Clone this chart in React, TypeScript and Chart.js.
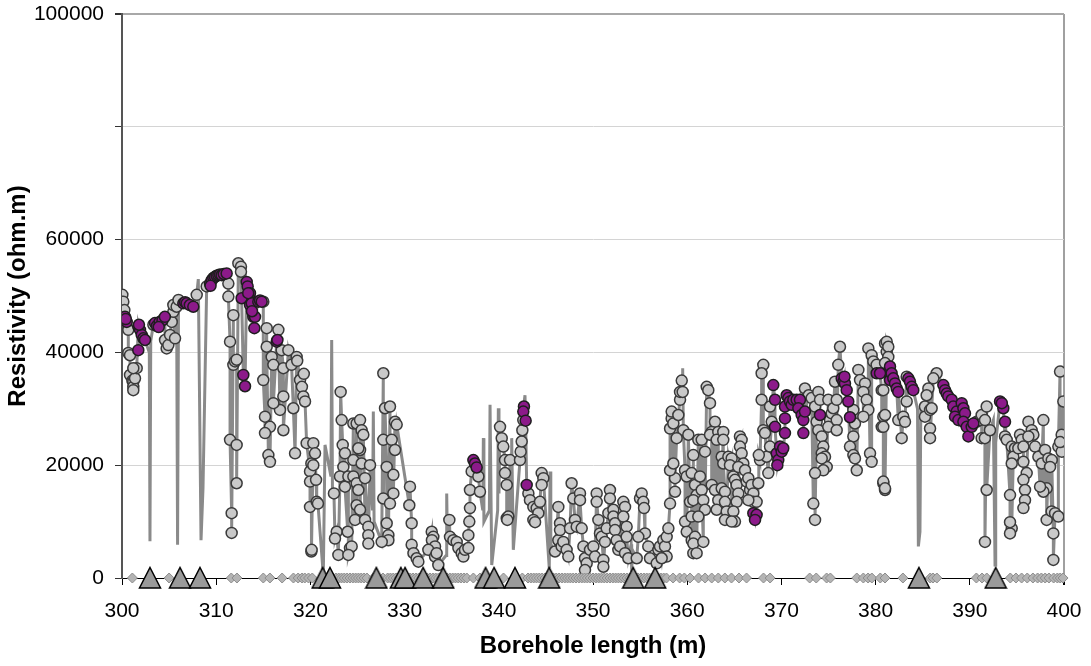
import React, { useEffect, useRef } from "react";
import { Chart, registerables } from "chart.js";

Chart.register(...registerables);

type P = [number, number];

// Borehole length (m) / resistivity (ohm.m) – light gray samples
const gray300to320: P[] = [
  [300.04,50200],[300.14,49000],[300.25,47500],[300.67,44000],[300.67,39900],[300.85,39500],[300.85,36000],[301.1,35000],
  [301.2,34800],[301.2,33900],[301.2,33300],[301.38,35400],[301.56,37200],[301.2,37200],
  [303.33,44900],[304.57,42200],[304.74,40700],[304.92,41300],[305.1,43100],[305.28,45400],[305.45,47200],[305.45,48400],
  [305.63,42500],[305.8,48100],[306.0,49300],[307.93,50200],[308.99,51700],[311.29,52200],[311.29,49900],[311.47,41900],
  [311.82,46600],[311.82,37800],[312.0,38400],[312.17,38700],[311.47,24500],[312.17,23600],[312.17,16800],[311.64,11500],
  [311.64,8000],[312.35,55800],[312.63,55200],[312.63,54300],[315.0,49000],[315.36,44300],[315.36,41000],[315.0,35100],
  [315.89,39200],[316.07,37800],[316.6,44000],[316.95,40400],[317.13,37200],[317.66,40400],[318.0,37800],[318.54,39200],
  [318.9,35100],[319.1,33900],[319.25,32200],[319.43,31300],[318.19,30100],[317.13,32200],[316.77,29800],[316.07,31000],
  [315.18,28600],[315.71,26800],[315.18,25700],[315.54,21800],[315.71,20600],[317.13,26200],[318.37,22100],[319.6,23900],
  [320.1,20300],[319.96,18900],[319.96,17100],[319.96,12600],[320.1,4700],[318.6,38500],[319.3,36200]
];
const gray320to340: P[] = [
  [320.31,23900],[320.49,22100],[320.31,20000],[320.6,17400],[320.67,13500],[320.8,13200],[320.13,5000],
  [322.5,15000],[322.79,8200],[322.61,7000],[322.97,4100],
  [323.21,33000],[323.32,28000],[323.43,23600],[323.67,22100],[323.5,19700],[323.14,18000],[323.67,16200],[324.03,18000],
  [323.96,8200],[324.2,5300],[324.38,5600],[324.03,4100],[324.56,27400],[325.27,22700],
  [324.56,20900],[325.09,23000],[324.91,27400],[325.27,28000],[325.44,26200],[325.62,25400],[325.44,20300],[324.56,18000],
  [324.91,16800],[325.09,15600],[324.91,12900],[325.27,12100],[324.74,10300],[325.8,10300],[326.15,9100],[326.15,7600],
  [326.15,6100],[325.8,17700],[326.33,20000],
  [327.74,36300],[327.92,30100],[328.45,30400],[328.98,27700],[329.16,27200],[327.74,24500],[328.63,24500],[328.98,22700],
  [328.1,19700],[328.81,18300],[327.74,14100],[328.45,13200],[328.81,15000],[328.1,9700],[328.28,7600],[328.28,6700],[327.57,6400],
  [330.57,16200],[330.5,12900],[330.75,9700],[330.75,5900],[330.94,4400],[331.28,3500],[331.46,2900],
  [332.88,8200],[333.05,7300],[332.9,6700],[333.23,5600],[332.52,5000],[333.23,3800],[333.58,2300],[333.4,4400],
  [334.75,10300],[334.82,7300],[335.18,6700],[335.53,6400],[335.71,5300],[336.06,4400],[336.24,3800],[336.41,5000],
  [336.77,5300],[336.77,7600],[336.87,10000],[336.94,12400],[336.94,15600],[337.12,18900],[337.83,18000],[338.0,15300],
  [340.13,26800],[340.31,24800],[340.48,23300],[340.66,20900],[340.66,18600],[340.84,16500],[340.84,10600]
];
const gray340to360: P[] = [
  [341.01,10900],[340.9,10300],[341.19,20900],[342.25,20900],[342.32,22400],[342.43,24200],[342.5,26200],[342.6,28000],
  [343.14,15000],[343.31,13800],[343.67,12600],[344.02,12400],[344.37,13500],[344.2,11500],[343.67,10300],[343.85,9900],
  [344.55,18600],[344.73,17700],[344.55,16500],
  [345.97,4700],[346.32,12600],[346.5,9700],[346.32,6700],[346.67,5600],[346.85,6400],[347.2,5000],[347.38,3800],[346.5,8500],
  [347.73,16800],[347.91,14100],[348.09,10300],[347.56,8800],[348.27,9100],[348.62,15000],[348.62,13800],[348.8,8800],
  [348.98,5600],[349.15,3500],[349.33,2600],[349.15,1400],
  [349.68,5000],[350.04,5600],[350.21,3800],[350.39,15000],[350.39,13500],[350.57,10300],[350.74,7900],[350.92,7300],
  [351.1,3200],[351.1,2000],[351.27,6400],[351.45,8800],[351.63,11500],[351.8,15600],[351.8,14100],[352.16,12100],
  [352.16,10900],[352.34,9700],[352.34,8500],[352.51,6700],[352.69,5000],[352.87,5600],
  [353.22,13500],[353.4,12600],[353.22,10900],[353.57,9100],[353.57,7300],[353.4,4400],[353.75,3500],
  [354.64,3500],[354.99,14100],[355.17,15000],[355.34,13500],[355.42,12400],[355.52,7900],[354.81,7300],[355.87,5600],
  [356.05,3500],[356.76,2600],[356.94,5000],[357.11,5600],[357.47,6700],[357.64,5600],[357.82,7300],[358.0,8800],
  [357.82,3800],[357.29,3500],
  [358.18,13200],[358.71,15300],[358.71,17700],[358.18,19100],[358.53,20300],[359.77,19100],[359.95,18000],
  [358.18,26500],[358.35,28300],[358.53,27400],[358.35,29500],[359.06,28900],[359.24,31600],[359.24,33000],[359.52,33000],
  [359.42,35000],[359.59,26200],[360.12,25400],[358.88,24800],[359.77,10000],[359.95,8200]
];
const gray360to380: P[] = [
  [360.48,6700],[360.65,4400],[360.3,13500],[361.18,24500],[360.65,21800],[360.83,16500],[361.0,14700],
  [360.47,18600],[360.65,13800],[360.47,10900],[360.83,7300],[360.65,6100],[361.0,4400],[361.71,6400],
  [362.07,33900],[362.24,33300],[362.42,31000],[361.54,24500],[361.89,22400],[361.36,18000],[361.54,15600],[361.71,13800],
  [361.89,12100],[361.18,10900],
  [362.95,27700],[362.6,25900],[362.42,25400],[363.3,25900],[363.13,24500],[363.83,25900],[363.83,24500],[363.66,21500],
  [363.83,20300],[362.6,16500],[362.95,15600],[363.3,13800],[363.13,12100],[363.66,15900],[364.01,15300],[364.01,13500],
  [364.19,11800],[364.01,10300],
  [364.37,21500],[364.72,21200],[364.54,20000],[364.9,18000],[365.07,17400],[365.6,25100],[365.78,24500],[365.6,23300],
  [365.78,22100],[365.96,20300],[365.43,19700],[365.25,16500],[365.43,15000],[365.25,13500],[364.9,11800],[365.07,10000],
  [364.72,10000],
  [366.14,19100],[366.31,17100],[366.49,17700],[366.67,15600],[366.84,16500],[367.02,15000],[367.02,13500],[367.37,13500],
  [366.49,13800],
  [367.55,16800],[367.73,20900],[367.9,31600],[368.08,37800],[367.9,36300],[368.08,26200],[368.26,25700],[368.44,21500],
  [368.61,18600],[367.6,21800],[368.79,30400],[368.97,27700],[368.79,23300],
  [372.5,33600],[372.9,32400],
  [373.21,31900],[373.57,30400],[373.92,33000],[374.1,31600],[373.74,27700],[373.92,26200],[374.28,25100],[374.45,23300],
  [374.28,22100],[374.63,21500],[374.81,19700],[374.45,19100],[373.57,18600],[373.39,13200],[373.57,10300],[374.28,21200],
  [374.98,31600],[375.16,28000],[375.34,29200],[374.98,26800],[375.51,30100],[375.87,31600],[375.69,34800],[376.04,37800],
  [376.22,41000],[375.87,28000],[375.87,26200],
  [377.64,29800],[377.81,27400],[377.64,25100],[377.28,23300],[377.64,21800],[378.0,19100],[377.81,21200],
  [378.17,36900],[378.35,35100],[378.88,34500],[378.7,33000],[379.05,31600],[379.23,29800],[378.7,28600],[379.41,22100],
  [379.58,20600],[379.23,40700],[379.58,39500],[379.76,38400],[380.11,37800]
];
const gray380to400: P[] = [
  [380.65,33300],[380.82,28600],[380.65,26800],[380.82,16800],[381.0,15600],[381.0,41600],[381.18,40100],
  [381.18,41900],[381.35,41000],[381.35,39200],[381.0,38100],[380.82,33300],[381.0,28900],[380.82,26800],[380.82,17100],
  [381.0,15900],
  [383.3,35700],[383.3,31300],[382.41,28000],[382.94,28600],[383.12,27700],[382.77,24800],
  [386.48,36300],[386.13,35400],[385.6,33600],[385.42,32400],[385.24,30400],[385.24,28600],[385.78,29800],[385.95,30100],
  [385.78,26500],[385.78,24800],
  [390.73,27700],[391.08,28000],[391.26,28900],[391.79,30400],[391.61,28000],[391.26,24800],[391.6,24800],[392.14,26200],
  [391.79,15600],[391.61,6400],
  [393.74,25100],[393.92,24500],[394.45,23300],[394.8,23000],[394.62,21500],[394.45,20300],[395.33,25400],[395.51,24500],
  [395.15,23000],[395.69,23300],[396.22,27700],[396.57,26200],[396.75,25400],[396.22,25100],[395.69,20600],[396.04,18600],
  [395.69,17400],[395.86,15600],[395.86,13800],[395.69,12400],[394.27,14700],[394.45,8800],[394.27,7900],[394.27,9900],
  [397.81,28000],[396.93,23300],[397.28,21500],[397.64,20300],[397.99,22700],[398.34,21200],[398.7,20900],[398.52,19700],
  [398.16,15900],[397.81,15300],[397.46,16200],[398.16,10300],[398.69,11800],[399.05,11500],[399.4,10900],[398.87,7900],
  [398.87,3200],[399.58,36600],[399.93,31300],[399.75,25400],[399.4,23300],[399.75,22400],[399.58,24100]
];

// purple samples
const purple300to320: P[] = [
  [300.32,46300],[300.5,45400],[300.4,45900],[301.73,44600],[301.91,44000],[302.09,43100],[302.27,42500],[302.44,42200],
  [301.8,44900],[301.73,40400],
  [303.5,45200],[303.7,44700],[304.0,45400],[304.3,45700],[304.55,46300],[303.9,44500],
  [306.51,48700],[306.7,48900],[306.87,48700],[307.2,48400],[307.57,48100],
  [309.34,52200],[309.52,52800],[309.7,53200],[309.87,53400],[310.05,53600],[310.23,53700],[310.4,53800],[310.58,53700],
  [310.8,53900],[311.11,54000],[309.4,51800],
  [312.88,36000],[313.06,34000],[313.24,52500],[313.34,51700],[312.7,49600],[313.59,50500],[313.59,48400],[313.77,48700],
  [313.94,46300],[314.12,46300],[314.05,44300],[314.47,49000],[314.65,49200],[314.83,49000],[313.4,50500],[313.8,47300],
  [316.42,41900],[316.5,42200]
];
const purple320to360: P[] = [
  [337.3,20900],[337.47,20300],[337.65,19600],[342.67,30400],[342.6,29500],[342.85,27900],[342.96,16500]
];
const purple360to400: P[] = [
  [367.02,11500],[367.37,11200],[367.2,10300],
  [369.14,34200],[369.32,31600],[369.32,26800],[369.5,22100],[369.67,20900],[369.57,20000],[369.85,23300],[370.03,22400],
  [370.2,23000],[370.38,25700],[370.38,28300],[370.38,30400],[370.56,32400],[370.74,31900],[370.91,31300],[371.09,30700],
  [371.27,31600],[371.62,31600],[371.97,31600],[371.8,30100],[372.15,28900],[372.33,28000],[372.5,29500],[372.33,25700],
  [374.1,28900],
  [376.4,35400],[376.58,34800],[376.75,34500],[376.93,33300],[377.1,31300],[377.28,28500],[376.7,35700],
  [380.11,36300],[381.35,36600],[381.53,35100],[380.47,36300],
  [381.53,37500],[381.7,36300],[381.88,35400],[382.06,34500],[382.24,33600],[382.41,33000],[383.48,35400],[383.65,34800],
  [383.83,33900],[384.0,33300],
  [387.19,34200],[387.37,33300],[387.55,32700],[387.72,32200],[388.08,31600],[388.25,30400],[388.61,29500],[388.43,28600],
  [388.79,28000],[389.14,31000],[389.32,30100],[389.49,29200],[389.32,27700],[389.67,26800],[389.85,25100],[390.2,26800],
  [390.38,27400],[393.21,31300],[393.56,30100],[393.74,27700],[393.4,31000]
];

// extra trace values of the continuous log (spikes between samples)
const traceSpikes: P[] = [
  [302.9,40000],[302.97,6500],[303.05,42000],[305.9,5900],[308.1,53000],[308.39,6700],[308.6,16000],
  [321.37,500],[321.55,23600],[322.18,18000],[322.26,42200],[322.34,16000],
  [326.6,12000],[326.68,29500],[326.76,10000],[334.4,4000],[334.47,15000],[334.55,6000],
  [338.3,12000],[338.36,24800],[338.42,10000],[339.0,12000],[339.07,30700],[339.25,2300],
  [339.88,12000],[339.95,30100],[340.02,15000],[341.3,12000],[341.37,24800],[341.54,5000],
  [342.78,32400],[345.36,1700],[345.44,18900],[345.52,6000],[354.05,6000],[354.11,1100],[354.18,5000],
  [359.52,37200],[384.45,30000],[384.54,5600],[384.71,8200],[384.8,30000],[392.5,28000],[392.68,2300],[392.75,24000]
];

// marks on the axis
const diamondX: number[] = [
  301.1,305.0,311.6,312.2,315.0,315.7,317.0,318.2,318.7,319.1,319.4,319.8,320.2,
  322.4,322.7,323.0,323.3,323.6,323.9,324.2,324.5,324.8,325.1,325.4,325.7,326.0,
  326.7,327.2,327.7,328.2,328.5,
  328.8,329.1,329.4,329.7,330.0,330.3,330.6,330.9,331.2,331.5,331.8,332.1,332.4,332.7,333.0,333.3,333.6,333.9,
  334.2,334.5,334.8,335.1,335.4,335.7,336.0,336.3,336.6,337.3,338.0,340.5,342.5,
  343.1,343.4,343.7,344.0,344.3,344.6,344.9,345.2,345.5,345.8,346.1,346.4,346.7,347.0,347.3,347.6,347.9,348.2,
  348.5,348.8,349.1,349.4,349.7,350.0,350.3,350.6,350.9,351.2,351.5,351.8,352.1,352.4,352.7,353.0,353.3,353.6,
  353.9,354.2,354.5,354.8,355.1,355.4,355.7,356.0,356.3,356.6,356.9,357.2,357.5,357.8,
  358.5,359.2,359.7,360.3,361.2,361.9,362.6,363.3,364.0,364.7,365.5,366.3,
  368.1,368.8,373.0,373.7,374.8,375.2,
  378.0,378.7,379.2,379.6,380.5,381.0,382.9,385.8,386.1,386.5,390.7,391.3,391.8,
  394.3,394.9,395.5,396.1,396.7,397.2,397.6,398.0,398.4,398.9,399.3,399.6,399.9
];
const triangleX: number[] = [
  302.97,306.16,308.28,321.3,322.08,327.0,329.6,330.05,331.97,334.1,338.6,339.5,341.72,345.35,354.27,356.6,384.6,392.75
];

const yTickHidden = [80000];

const FONT = "'Liberation Sans', Arial, sans-serif";

const noEdgePadding = (s: any) => {
  s.paddingTop = 0;
  s.paddingBottom = 0;
  s.paddingLeft = 0;
  s.paddingRight = 0;
};

export default function App() {
  const ref = useRef<HTMLCanvasElement | null>(null);

  useEffect(() => {
    if (!ref.current) return;
    const toXY = (a: P[]) => a.map(([x, y]) => ({ x, y }));
    const gray = [...gray300to320, ...gray320to340, ...gray340to360, ...gray360to380, ...gray380to400];
    const purple = [...purple300to320, ...purple320to360, ...purple360to400];
    const trace = [...gray, ...purple, ...traceSpikes].slice().sort((a, b) => a[0] - b[0]);

    const tri = document.createElement("canvas");
    tri.width = 24;
    tri.height = 24;
    const tc = tri.getContext("2d")!;
    tc.beginPath();
    tc.moveTo(12, 1.5);
    tc.lineTo(22.5, 22);
    tc.lineTo(1.5, 22);
    tc.closePath();
    tc.fillStyle = "#9a9a9a";
    tc.fill();
    tc.lineWidth = 1.5;
    tc.strokeStyle = "#000";
    tc.stroke();

    const chart = new Chart(ref.current, {
      type: "scatter",
      data: {
        datasets: [
          {
            label: "triangles",
            data: triangleX.map((x) => ({ x, y: 0 })),
            pointStyle: tri as any,
            pointRadius: 11,
            order: 0,
            clip: false as any,
          },
          {
            label: "diamonds",
            data: diamondX.map((x) => ({ x, y: 0 })),
            pointStyle: "rectRot",
            pointRadius: 5,
            backgroundColor: "#b4b4b4",
            borderColor: "#8c8c8c",
            borderWidth: 1,
            order: 1,
            clip: false as any,
          },
          {
            label: "purple",
            data: toXY(purple),
            pointRadius: 5.5,
            backgroundColor: "#8c1a8a",
            borderColor: "#1e1e1e",
            borderWidth: 1.5,
            order: 2,
          },
          {
            label: "gray",
            data: toXY(gray),
            pointRadius: 5.5,
            backgroundColor: "#c9c9c9",
            borderColor: "#3a3a3a",
            borderWidth: 1.5,
            order: 3,
          },
          {
            label: "trace",
            data: toXY(trace),
            showLine: true,
            pointRadius: 0,
            borderColor: "#8a8a8a",
            borderWidth: 3,
            tension: 0,
            order: 4,
          } as any,
        ],
      },
      options: {
        responsive: false,
        animation: false,
        layout: { padding: { left: 0, top: 14, right: 27, bottom: 0 } },
        plugins: { legend: { display: false }, tooltip: { enabled: false } },
        scales: {
          x: {
            type: "linear",
            min: 300,
            max: 400,
            afterFit: (s: any) => {
              s.height = 88;
              noEdgePadding(s);
            },
            ticks: {
              stepSize: 10,
              padding: 14,
              color: "#000",
              font: { family: FONT, size: 21 },
              callback: (v: any) => String(v),
              maxRotation: 0,
            },
            grid: {
              drawOnChartArea: true,
              drawTicks: true,
              tickLength: 7,
              tickColor: "#000",
              color: (c: any) => (c.tick && c.tick.value === 400 ? "#a0a0a0" : "rgba(0,0,0,0)"),
              lineWidth: (c: any) => (c.tick && c.tick.value === 400 ? 2 : 1),
            },
            border: { display: true, color: "#000", width: 1 },
            title: {
              display: true,
              text: "Borehole length (m)",
              color: "#000",
              font: { family: FONT, size: 24, weight: "bold" },
              padding: { top: 0, bottom: 5 },
            },
          },
          y: {
            type: "linear",
            min: 0,
            max: 100000,
            afterFit: (s: any) => {
              s.width = 122;
              noEdgePadding(s);
            },
            ticks: {
              stepSize: 20000,
              padding: 11,
              color: "#000",
              font: { family: FONT, size: 21 },
              callback: (v: any) => (yTickHidden.includes(v) ? "" : String(v)),
            },
            grid: {
              drawTicks: true,
              tickLength: 7,
              tickColor: "#333",
              color: (c: any) => (c.tick && c.tick.value === 100000 ? "#a8a8a8" : "#d4d4d4"),
              lineWidth: (c: any) => (c.tick && c.tick.value === 100000 ? 2 : 1),
            },
            border: { display: true, color: "#555", width: 2 },
            title: {
              display: true,
              text: "Resistivity (ohm.m)",
              color: "#000",
              font: { family: FONT, size: 24, weight: "bold" },
              padding: { top: 4, bottom: 0 },
            },
          },
        },
      },
    });
    return () => chart.destroy();
  }, []);

  return (
    <div style={{ position: "fixed", left: 0, top: 0, width: 1091, height: 666, background: "#fff" }}>
      <canvas ref={ref} width={1091} height={666} style={{ display: "block", width: 1091, height: 666 }} />
    </div>
  );
}
